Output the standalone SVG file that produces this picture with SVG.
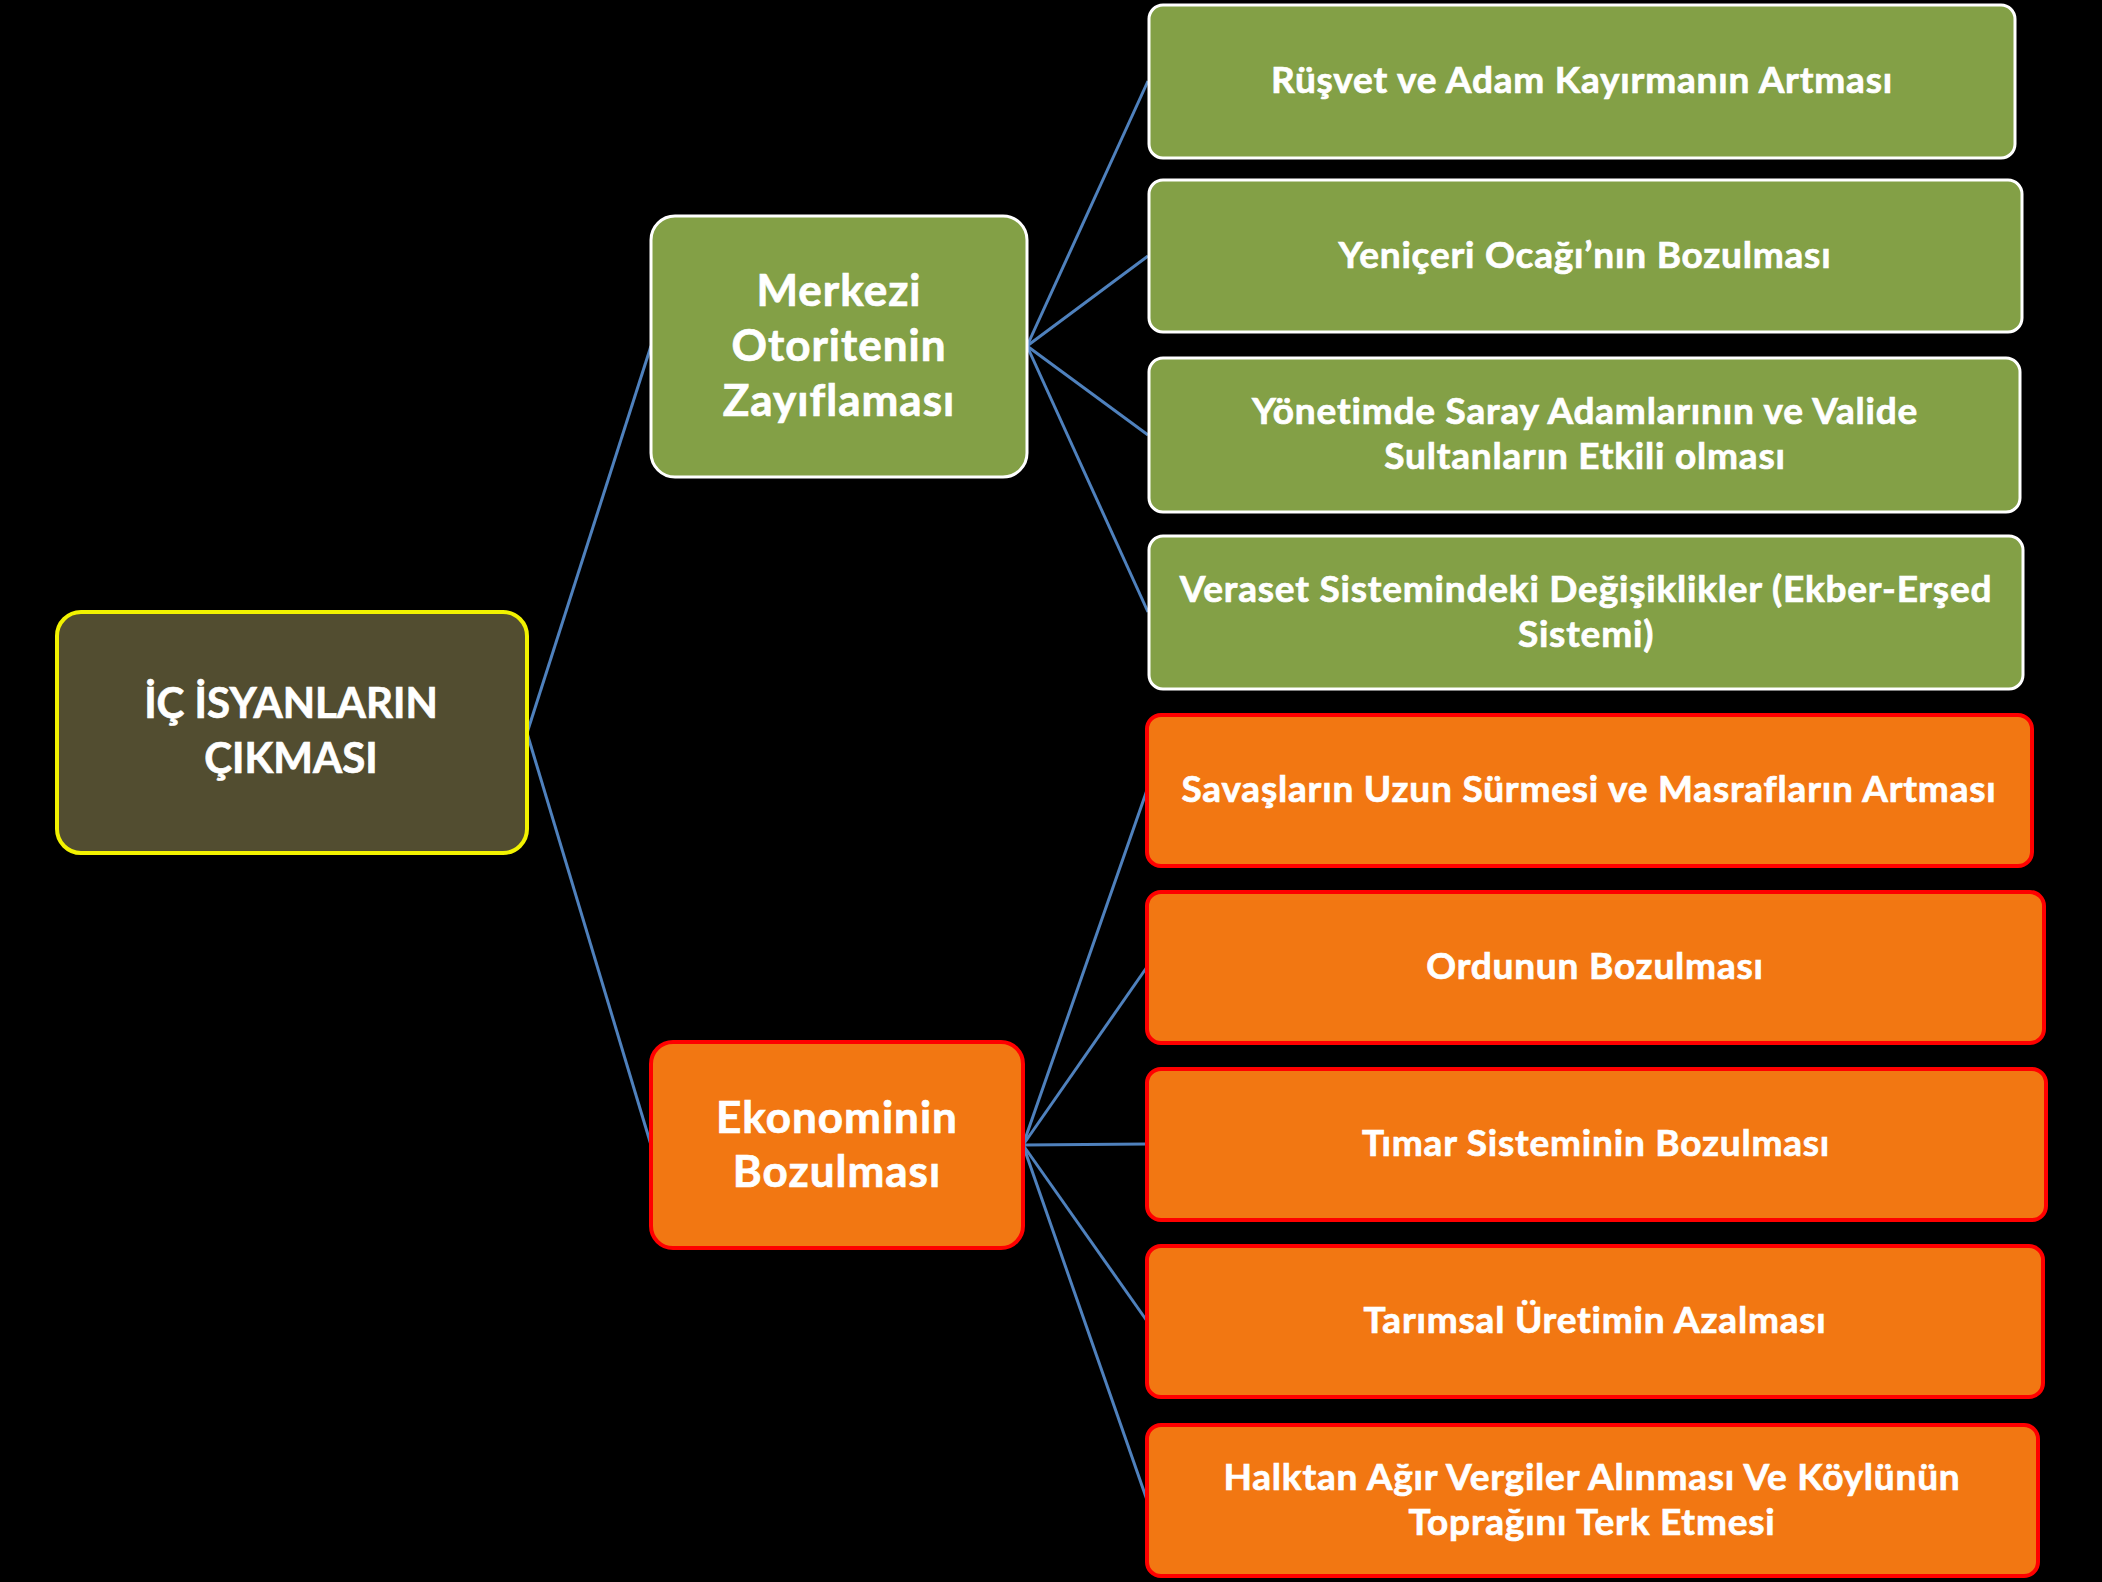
<svg xmlns="http://www.w3.org/2000/svg" width="2102" height="1582" viewBox="0 0 2102 1582">
<style>
.bg{fill:#000000}
.root{fill:#524D30;stroke:#F2F200;stroke-width:4}
.g{fill:#83A046;stroke:#FFFFFF;stroke-width:3}
.o{fill:#F27712;stroke:#FF0000;stroke-width:4}
.t{font-family:Lato,"Liberation Sans",sans-serif;font-weight:bold;fill:#FFFFFF;stroke:#FFFFFF;stroke-width:0.7;text-anchor:middle}
.big{font-size:42px}
.mid{font-size:44px;letter-spacing:1px}
.sm{font-size:37px;letter-spacing:0.8px}
.c{stroke:#4F81BD;stroke-width:3;fill:none}
</style>
<rect class="bg" x="0" y="0" width="2102" height="1582"/>
<g id="connectors">
<line class="c" x1="527" y1="733" x2="651" y2="346"/>
<line class="c" x1="527" y1="733" x2="651" y2="1145"/>
<line class="c" x1="1027" y1="346" x2="1148" y2="81"/>
<line class="c" x1="1027" y1="346" x2="1148" y2="256"/>
<line class="c" x1="1027" y1="346" x2="1148" y2="435"/>
<line class="c" x1="1027" y1="346" x2="1148" y2="612"/>
<line class="c" x1="1023" y1="1145" x2="1147" y2="790"/>
<line class="c" x1="1023" y1="1145" x2="1147" y2="967"/>
<line class="c" x1="1023" y1="1145" x2="1147" y2="1144"/>
<line class="c" x1="1023" y1="1145" x2="1147" y2="1321"/>
<line class="c" x1="1023" y1="1145" x2="1147" y2="1500"/>
</g>
<g id="root">
<rect class="root" x="57" y="612" width="470" height="241" rx="24"/>
<text class="t big" x="291" y="718">İÇ İSYANLARIN</text>
<text class="t big" x="291" y="773">ÇIKMASI</text>
</g>
<g id="merkezi">
<rect class="g" x="651" y="216" width="376" height="261" rx="24"/>
<text class="t mid" x="839" y="306">Merkezi</text>
<text class="t mid" x="839" y="361">Otoritenin</text>
<text class="t mid" x="839" y="416">Zayıflaması</text>
</g>
<g id="ekonomi">
<rect class="o" x="651" y="1042" width="372" height="206" rx="22"/>
<text class="t mid" x="837" y="1133">Ekonominin</text>
<text class="t mid" x="837" y="1187">Bozulması</text>
</g>
<g id="g1">
<rect class="g" x="1149" y="5" width="866" height="153" rx="14"/>
<text class="t sm" x="1582" y="93">Rüşvet ve Adam Kayırmanın Artması</text>
</g>
<g id="g2">
<rect class="g" x="1149" y="180" width="873" height="152" rx="14"/>
<text class="t sm" x="1585" y="268">Yeniçeri Ocağı’nın Bozulması</text>
</g>
<g id="g3">
<rect class="g" x="1149" y="358" width="871" height="154" rx="14"/>
<text class="t sm" x="1585" y="424">Yönetimde Saray Adamlarının ve Valide</text>
<text class="t sm" x="1585" y="469">Sultanların Etkili olması</text>
</g>
<g id="g4">
<rect class="g" x="1149" y="536" width="874" height="153" rx="14"/>
<text class="t sm" x="1586" y="602">Veraset Sistemindeki Değişiklikler (Ekber-Erşed</text>
<text class="t sm" x="1586" y="647">Sistemi)</text>
</g>
<g id="o1">
<rect class="o" x="1147" y="715" width="885" height="151" rx="14"/>
<text class="t sm" x="1589" y="802">Savaşların Uzun Sürmesi ve Masrafların Artması</text>
</g>
<g id="o2">
<rect class="o" x="1147" y="892" width="897" height="151" rx="14"/>
<text class="t sm" x="1595" y="979">Ordunun Bozulması</text>
</g>
<g id="o3">
<rect class="o" x="1147" y="1069" width="899" height="151" rx="14"/>
<text class="t sm" x="1596" y="1156">Tımar Sisteminin Bozulması</text>
</g>
<g id="o4">
<rect class="o" x="1147" y="1246" width="896" height="151" rx="14"/>
<text class="t sm" x="1595" y="1333">Tarımsal Üretimin Azalması</text>
</g>
<g id="o5">
<rect class="o" x="1147" y="1425" width="891" height="151" rx="14"/>
<text class="t sm" x="1592" y="1490">Halktan Ağır Vergiler Alınması Ve Köylünün</text>
<text class="t sm" x="1592" y="1535">Toprağını Terk Etmesi</text>
</g>
</svg>
